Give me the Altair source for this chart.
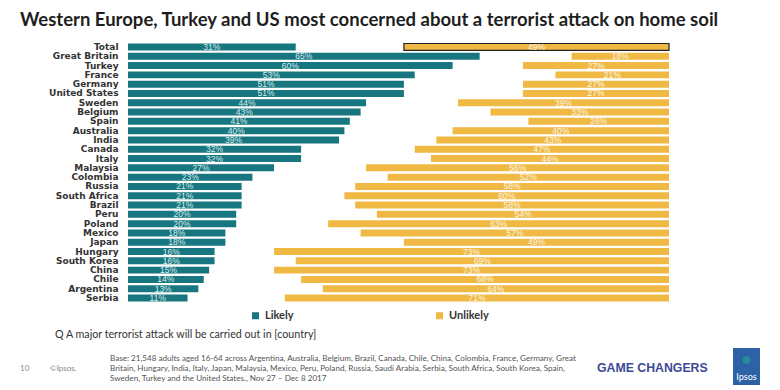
import altair as alt
import pandas as pd

countries = ["Total", "Great Britain", "Turkey", "France", "Germany", "United States",
             "Sweden", "Belgium", "Spain", "Australia", "India", "Canada", "Italy",
             "Malaysia", "Colombia", "Russia", "South Africa", "Brazil", "Peru", "Poland",
             "Mexico", "Japan", "Hungary", "South Korea", "China", "Chile", "Argentina", "Serbia"]
likely = [31, 65, 60, 53, 51, 51, 44, 43, 41, 40, 39, 32, 32, 27, 23, 21, 21, 21, 20, 20,
          18, 18, 16, 16, 15, 14, 13, 11]
unlikely = [49, 18, 27, 21, 27, 27, 39, 33, 26, 40, 43, 47, 44, 56, 52, 58, 60, 58, 54, 63,
            57, 49, 73, 69, 73, 68, 64, 71]
series = ["Likely", "Unlikely"]

TEAL = "#17767f"
YELLOW = "#efb944"

rows = []
for c, l, u in zip(countries, likely, unlikely):
    rows.append({"country": c, "series": "Likely", "start": 0, "end": l, "label": f"{l}%"})
    rows.append({"country": c, "series": "Unlikely", "start": 100 - u, "end": 100, "label": f"{u}%"})
df = pd.DataFrame(rows)
df["mid"] = (df["start"] + df["end"]) / 2

xscale = alt.Scale(domain=[0, 100], nice=False, zero=False)
yenc = alt.Y("country:N", sort=countries, title=None,
             scale=alt.Scale(paddingInner=0.25, paddingOuter=0.16),
             axis=alt.Axis(domain=False, ticks=False, labelPadding=10, labelFont="DejaVu Sans",
                           labelFontWeight="bold", labelFontSize=9, labelColor="#333333"))

bars = alt.Chart(df).mark_bar().encode(
    x=alt.X("start:Q", scale=xscale, axis=None),
    x2="end:Q",
    y=yenc,
    color=alt.Color("series:N", scale=alt.Scale(domain=series, range=[TEAL, YELLOW]),
                    legend=alt.Legend(title=None, orient="none", legendX=122, legendY=268,
                                      direction="horizontal", symbolType="square", symbolSize=49,
                                      labelFontSize=11, labelFont="Lato", labelFontWeight="bold",
                                      labelColor="#333333", columnPadding=140, padding=0,
                                      symbolStrokeWidth=0)),
)

outline = alt.Chart(df).transform_filter(
    (alt.datum.country == "Total") & (alt.datum.series == "Unlikely")
).mark_bar(fillOpacity=0, stroke="#222222", strokeWidth=1.2).encode(
    x=alt.X("start:Q", scale=xscale, axis=None), x2="end:Q", y=yenc)

labels = alt.Chart(df).mark_text(fontSize=8.5, font="Liberation Sans", baseline="middle").encode(
    x=alt.X("mid:Q", scale=xscale, axis=None),
    y=yenc,
    text="label:N",
    color=alt.Color("series:N", scale=alt.Scale(domain=series, range=["#d8ecec", "#fff6e2"]), legend=None),
)

def note(text, x, y, **kw):
    return alt.Chart(pd.DataFrame({"t": [0]})).mark_text(text=text, align=kw.pop("align", "left"),
                                                       baseline="alphabetic", **kw).encode(
        x=alt.value(x), y=alt.value(y))

title = note("Western Europe, Turkey and US most concerned about a terrorist attack on home soil",
             -108, -16, font="Lato", fontSize=18.5, fontWeight="bold", color="#1e1e1e")
q = note("Q A major terrorist attack will be carried out in [country]", -73, 296,
         font="Lato", fontSize=10.7, color="#333333")
page = note("10", -108, 329, font="Lato", fontSize=8, color="#888888")
copy = note("©Ipsos.", -78, 329, font="Lato", fontSize=8, color="#888888")
base = note(["Base: 21,548 adults aged 16-64 across Argentina, Australia, Belgium, Brazil, Canada, Chile, China, Colombia, France, Germany, Great",
             "Britain, Hungary, India, Italy, Japan, Malaysia, Mexico, Peru, Poland, Russia, Saudi Arabia, Serbia, South Africa, South Korea, Spain,",
             "Sweden, Turkey and the United States., Nov 27 – Dec 8 2017"],
            -18, 319, font="Lato", fontSize=8.1, color="#555555", lineHeight=10)
gc = note("GAME CHANGERS", 469, 330, font="Liberation Sans", fontSize=12.3, fontWeight="bold", color="#3b4a96")
logo = alt.Chart(pd.DataFrame({"t": [0]})).mark_rect(color="#2d62a6").encode(
    x=alt.value(605), x2=alt.value(632), y=alt.value(306), y2=alt.value(344))
logo_drop = alt.Chart(pd.DataFrame({"t": [0]})).mark_point(
    shape="circle", filled=True, color="#1f9a9a", size=60, opacity=0.8).encode(
    x=alt.value(618.5), y=alt.value(318))
logo_t = note("Ipsos", 618.5, 338, align="center", font="Lato", fontSize=9, color="white")

chart = alt.layer(bars, outline, labels, title, q, page, copy, base, gc, logo, logo_drop, logo_t).resolve_scale(
    color="independent"
).properties(
    width=541, height=261,
    autosize=alt.AutoSizeParams(type="none"),
    padding={"left": 120, "top": 34, "right": 100, "bottom": 82},
).configure_view(stroke=None).configure_axis(grid=False)

chart.save("out.html", embed_options={"renderer": "svg", "actions": False})
